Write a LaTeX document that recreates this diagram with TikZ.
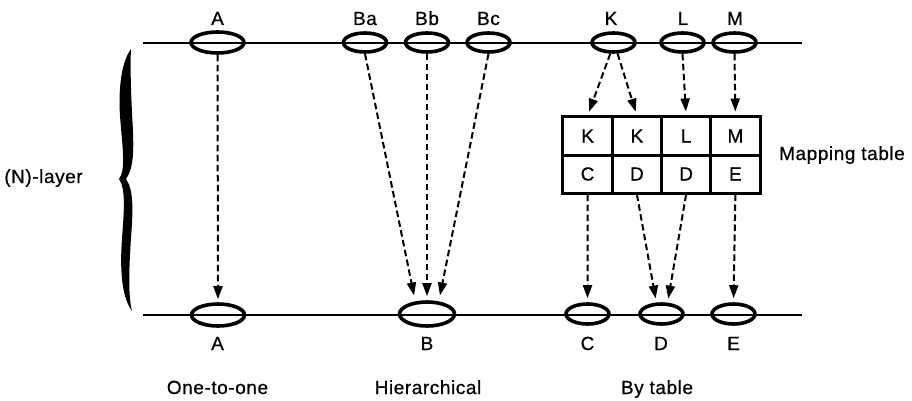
\documentclass[tikz,border=0pt]{standalone}
\usepackage{fontspec}
\setmainfont{Liberation Sans}[LetterSpace=3, FakeBold=0.6]
\usetikzlibrary{shapes.geometric,arrows.meta}
\begin{document}
\begin{tikzpicture}[x=1pt,y=-1pt,
  txt/.style={font=\fontsize{19}{21}\selectfont, inner sep=0pt},
  lbl/.style={txt, anchor=base},
  ring/.style={ellipse, draw, line width=3.6pt, inner sep=0pt,
    minimum width=43pt, minimum height=19pt},
  bigring/.style={ring, minimum width=53pt, minimum height=21pt},
  layerline/.style={line width=1.9pt},
  mapto/.style={line width=2pt, dash pattern=on 6.5pt off 3.5pt,
    -{Triangle[length=13pt,width=9pt]}},
  cell/.style={txt, draw, line width=3pt, minimum width=49.25pt,
    minimum height=38pt}
]
\useasboundingbox (0,0) rectangle (912,401);

% the two layer lines
\coordinate (tl) at (143,43);
\coordinate (tr) at (802,43);
\coordinate (bl) at (143,315);
\coordinate (br) at (802,315);
\draw[layerline] (tl) -- (tr);
\draw[layerline] (bl) -- (br);

% entities on the upper line
\node[bigring] (tA) at (217.5,42.5) {};
\node[ring] (tBa) at (365,42.5) {};
\node[ring] (tBb) at (427,42.5) {};
\node[ring] (tBc) at (488.5,42.5) {};
\node[ring] (tK) at (613.5,42.5) {};
\node[ring] (tL) at (682.5,42.5) {};
\node[ring] (tM) at (734.5,42.5) {};

% entities on the lower line
\node[bigring, minimum height=22pt] (bA) at (218,315) {};
\node[bigring, minimum width=55pt, minimum height=24pt] (bB) at (427,314) {};
\node[ring, minimum height=20pt] (bC) at (587.5,314) {};
\node[ring, minimum height=20pt] (bD) at (661.5,314) {};
\node[ring, minimum height=20pt] (bE) at (733.5,314) {};

% names above and below
\node[lbl] (nA) at (217.5,25) {A};
\node[lbl] (nBa) at (365,25) {Ba};
\node[lbl] (nBb) at (427,25) {Bb};
\node[lbl] (nBc) at (488.5,25) {Bc};
\node[lbl] (nK) at (611,25) {K};
\node[lbl] (nL) at (683,25) {L};
\node[lbl] (nM) at (735,25) {M};
\node[lbl] (mA) at (217.5,350) {A};
\node[lbl] (mB) at (427,350) {B};
\node[lbl] (mC) at (587.5,350) {C};
\node[lbl] (mD) at (661,350) {D};
\node[lbl] (mE) at (733.5,350) {E};

% mapping table
\node[cell] (c11) at (587.6,136) {K};
\node[cell] (c12) at (636.9,136) {K};
\node[cell] (c13) at (686.1,136) {L};
\node[cell] (c14) at (735.4,136) {M};
\node[cell] (c21) at (587.6,174) {C};
\node[cell] (c22) at (636.9,174) {D};
\node[cell] (c23) at (686.1,174) {D};
\node[cell] (c24) at (735.4,174) {E};
\node[lbl] (maptitle) at (842,160) {Mapping table};

% one-to-one
\draw[mapto, shorten >=3pt] (tA.south) -- (bA.north);

% hierarchical
\draw[mapto, shorten >=6pt] (tBa.south) -- (bB.133);
\draw[mapto, shorten >=4pt] (tBb.south) -- (bB.north);
\draw[mapto, shorten >=6pt] (tBc.south) -- (bB.47);

% by table
\draw[mapto, shorten >=4pt] (tK.254) -- (c11.north);
\draw[mapto, shorten >=4pt] (tK.290) -- (c12.north);
\draw[mapto, shorten >=4pt] (tL.south) -- (c13.north);
\draw[mapto, shorten >=4pt] (tM.south) -- (c14.north);
\draw[mapto, shorten >=4pt] (c21.south) -- (bC.north);
\draw[mapto, shorten >=4pt] (c22.south) -- (bD.114);
\draw[mapto, shorten >=4pt] (c23.south) -- (bD.62);
\draw[mapto, shorten >=4pt] (c24.south) -- (bE.north);

% captions
\node[lbl] (cap1) at (217.5,394) {One-to-one};
\node[lbl] (cap2) at (428,394) {Hierarchical};
\node[lbl] (cap3) at (657,394) {By table};

% the brace spanning the layer
\fill (131,49) .. controls (120,64) and (118,95) .. (120.5,122)
  .. controls (122.5,148) and (126,170) .. (119,179)
  .. controls (126,189) and (124,212) .. (122,238)
  .. controls (120,268) and (121,296) .. (132,311)
  .. controls (128,296) and (129,268) .. (131,238)
  .. controls (133,212) and (134,190) .. (126,179)
  .. controls (134,168) and (134,148) .. (132.5,122)
  .. controls (131,95) and (130,64) .. (131,49) -- cycle;
\node[lbl] (layer) at (43.5,183) {(N)-layer};
\end{tikzpicture}
\end{document}
